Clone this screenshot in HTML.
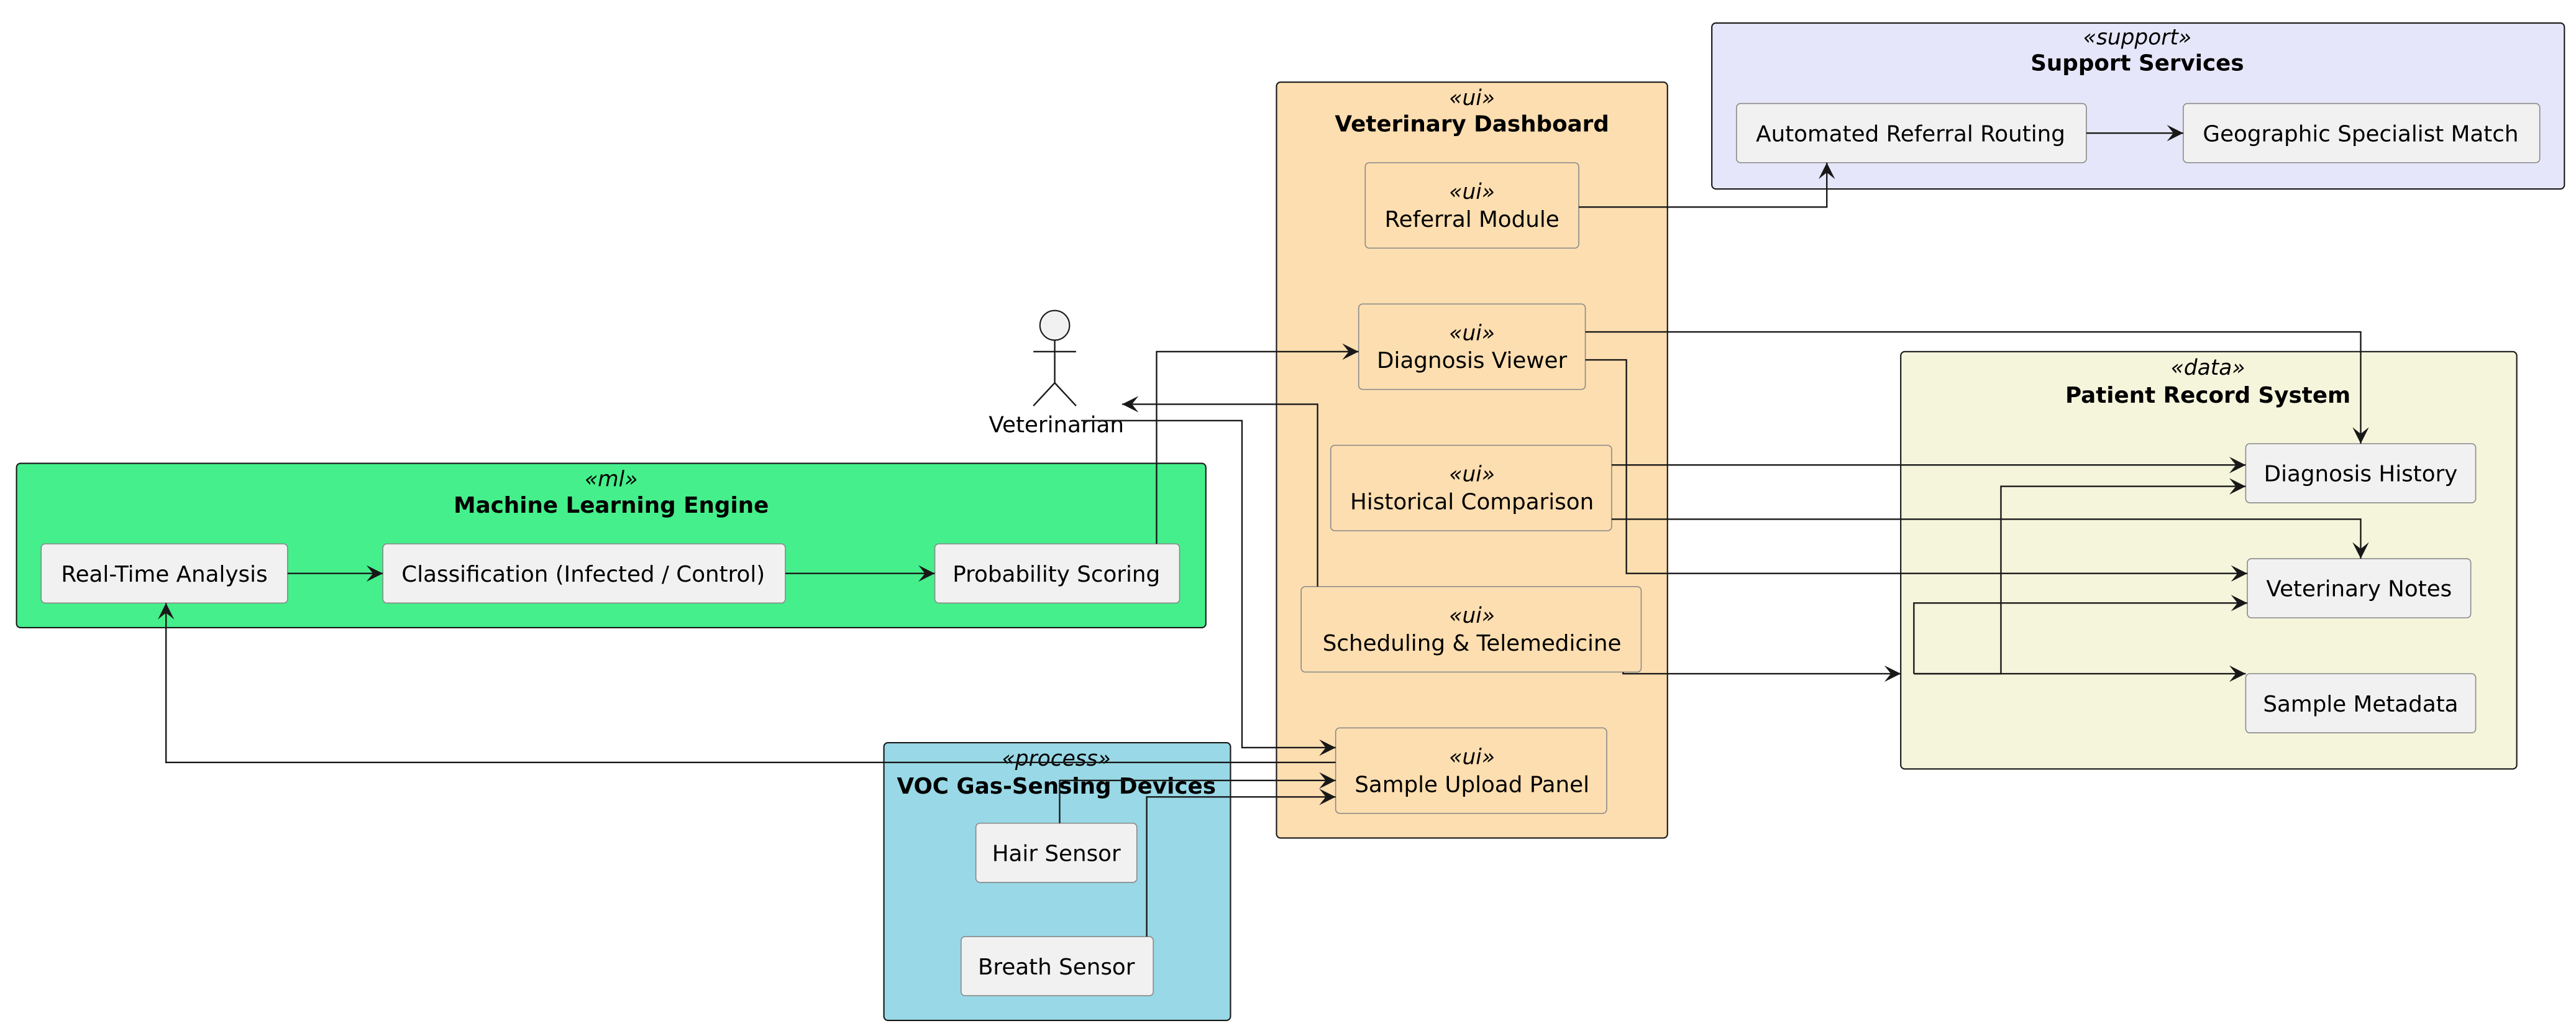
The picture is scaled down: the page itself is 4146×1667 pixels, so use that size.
<!DOCTYPE html>
<html><head><meta charset="utf-8"><style>
html,body{margin:0;padding:0;background:#fff;}
svg{display:block;}
text{font-family:"DejaVu Sans","Liberation Sans",sans-serif;fill:#000;}
.n{fill:#F1F1F1;stroke:#888;stroke-width:0.6;}
.c{stroke:#181818;stroke-width:0.8;}
.l{fill:none;stroke:#181818;stroke-width:0.9;}
.t{font-size:13.5px;text-anchor:middle;}
.s{font-size:13px;font-style:italic;text-anchor:middle;}
.b{font-size:13.5px;font-weight:bold;text-anchor:middle;}
</style></head><body>
<svg width="4146" height="1667" viewBox="0 0 1568 630.5" xmlns="http://www.w3.org/2000/svg">
<defs><marker id="a" viewBox="0 0 10 10" refX="10" refY="5" markerWidth="10" markerHeight="10" markerUnits="userSpaceOnUse" orient="auto"><path d="M0,0 L10,5 L0,10 L4,5 Z" fill="#181818"/></marker></defs>

<!-- Support -->
<rect x="1042" y="14" width="519" height="101" rx="2.5" fill="#E6E6FA" class="c"/>
<text x="1301" y="27" class="s">«support»</text>
<text x="1301" y="43" class="b">Support Services</text>
<rect x="1057" y="63" width="213" height="36" rx="2.5" class="n"/>
<text x="1163" y="86" class="t">Automated Referral Routing</text>
<rect x="1329" y="63" width="217" height="36" rx="2.5" class="n"/>
<text x="1437" y="86" class="t">Geographic Specialist Match</text>

<!-- Dashboard -->
<rect x="777" y="50" width="238" height="460" rx="2.5" fill="#FDDEB0" class="c"/>
<text x="896" y="64" class="s">«ui»</text>
<text x="896" y="80" class="b">Veterinary Dashboard</text>
<rect x="831" y="99" width="130" height="52" rx="2.5" fill="#FDDEB0" stroke="#888" stroke-width="0.6"/>
<text x="896" y="121" class="s">«ui»</text><text x="896" y="138" class="t">Referral Module</text>
<rect x="827" y="185" width="138" height="52" rx="2.5" fill="#FDDEB0" stroke="#888" stroke-width="0.6"/>
<text x="896" y="207" class="s">«ui»</text><text x="896" y="224" class="t">Diagnosis Viewer</text>
<rect x="810" y="271" width="171" height="52" rx="2.5" fill="#FDDEB0" stroke="#888" stroke-width="0.6"/>
<text x="896" y="293" class="s">«ui»</text><text x="896" y="310" class="t">Historical Comparison</text>
<rect x="792" y="357" width="207" height="52" rx="2.5" fill="#FDDEB0" stroke="#888" stroke-width="0.6"/>
<text x="896" y="379" class="s">«ui»</text><text x="896" y="396" class="t">Scheduling &amp; Telemedicine</text>
<rect x="813" y="443" width="165" height="52" rx="2.5" fill="#FDDEB0" stroke="#888" stroke-width="0.6"/>
<text x="896" y="465" class="s">«ui»</text><text x="896" y="482" class="t">Sample Upload Panel</text>

<!-- Patient -->
<rect x="1157" y="214" width="375" height="254" rx="2.5" fill="#F5F5DC" class="c"/>
<text x="1344" y="228" class="s">«data»</text>
<text x="1344" y="245" class="b">Patient Record System</text>
<rect x="1367" y="270" width="140" height="36" rx="2.5" class="n"/>
<text x="1437" y="293" class="t">Diagnosis History</text>
<rect x="1368" y="340" width="136" height="36" rx="2.5" class="n"/>
<text x="1436" y="363" class="t">Veterinary Notes</text>
<rect x="1367" y="410" width="140" height="36" rx="2.5" class="n"/>
<text x="1437" y="433" class="t">Sample Metadata</text>

<!-- ML -->
<rect x="10" y="282" width="724" height="100" rx="2.5" fill="#45EF8B" class="c"/>
<text x="372" y="296" class="s">«ml»</text>
<text x="372" y="312" class="b">Machine Learning Engine</text>
<rect x="25" y="331" width="150" height="36" rx="2.5" class="n"/>
<text x="100" y="354" class="t">Real-Time Analysis</text>
<rect x="233" y="331" width="245" height="36" rx="2.5" class="n"/>
<text x="355" y="354" class="t">Classification (Infected / Control)</text>
<rect x="569" y="331" width="149" height="36" rx="2.5" class="n"/>
<text x="643" y="354" class="t">Probability Scoring</text>

<!-- VOC -->
<rect x="538" y="452" width="211" height="169" rx="2.5" fill="#99D8E6" class="c"/>
<text x="643" y="466" class="s">«process»</text>
<text x="643" y="483" class="b">VOC Gas-Sensing Devices</text>
<rect x="594" y="501" width="98" height="36" rx="2.5" class="n"/>
<text x="643" y="524" class="t">Hair Sensor</text>
<rect x="585" y="570" width="117" height="36" rx="2.5" class="n"/>
<text x="643" y="593" class="t">Breath Sensor</text>

<!-- Actor -->
<circle cx="642" cy="198" r="9" fill="#F1F1F1" stroke="#181818" stroke-width="0.8"/>
<path d="M642,207 V233 M629,214 H655 M629,247 L642,233 L655,247" class="l"/>
<text x="643" y="263" class="t">Veterinarian</text>

<!-- Edges -->
<path d="M175,349 H233" class="l" marker-end="url(#a)"/>
<path d="M478,349 H569" class="l" marker-end="url(#a)"/>
<path d="M704,331 V214 H827" class="l" marker-end="url(#a)"/>
<path d="M802,357 V246 H683" class="l" marker-end="url(#a)"/>
<path d="M658,256 H756 V455 H813" class="l" marker-end="url(#a)"/>
<path d="M813,464 H101 V367" class="l" marker-end="url(#a)"/>
<path d="M645,501 V475 H813" class="l" marker-end="url(#a)"/>
<path d="M698,570 V485 H813" class="l" marker-end="url(#a)"/>
<path d="M961,126 H1112 V99" class="l" marker-end="url(#a)"/>
<path d="M1270,81 H1329" class="l" marker-end="url(#a)"/>
<path d="M965,202 H1437 V270" class="l" marker-end="url(#a)"/>
<path d="M965,219 H990 V349 H1368" class="l" marker-end="url(#a)"/>
<path d="M981,283 H1367" class="l" marker-end="url(#a)"/>
<path d="M981,316 H1437 V340" class="l" marker-end="url(#a)"/>
<path d="M988,409 V410 H1157" class="l" marker-end="url(#a)"/>
<path d="M1165,410 H1367" class="l" marker-end="url(#a)"/>
<path d="M1165,410 V367 H1368" class="l" marker-end="url(#a)"/>
<path d="M1165,410 H1218 V296 H1367" class="l" marker-end="url(#a)"/>
</svg>
</body></html>
